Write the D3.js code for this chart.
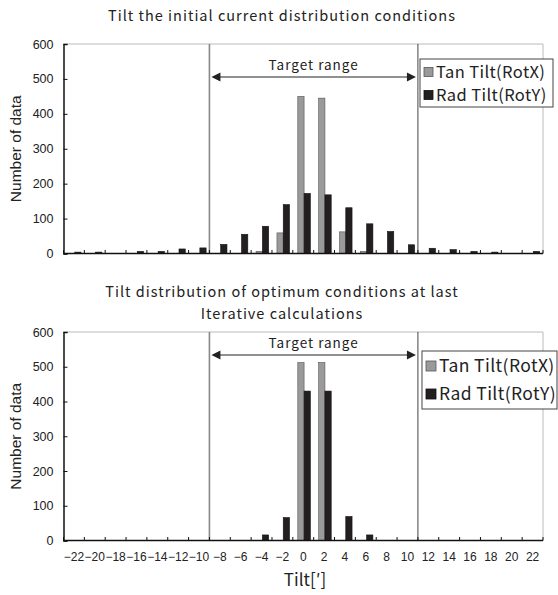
<!DOCTYPE html>
<html>
<head>
<meta charset="utf-8">
<style>
  body { margin: 0; background: #fff; }
  .title, .legend text, .target { font-family: "Noto Sans CJK JP", "Noto Sans", sans-serif; fill: #222; }
  .title, .target { letter-spacing: 1px; }
  .legend text { letter-spacing: 0.4px; }
  .tick text, .ylab, .xlab { font-family: "Liberation Sans", Arial, sans-serif; fill: #222; }
</style>
</head>
<body>
<svg width="558" height="595"></svg>
<script src="https://d3js.org/d3.v7.min.js"></script>
<script>

// tilt classes (bin centres, arc-min)
var categories = [-22, -20, -18, -16, -14, -12, -10, -8, -6, -4, -2, 0, 2, 4, 6, 8, 10, 12, 14, 16, 18, 20, 22];
var tickLabels = categories.map(function(d) { return d < 0 ? "\u2212" + (-d) : String(d); });
var seriesNames = ["Tan Tilt(RotX)", "Rad Tilt(RotY)"];

// initial current distribution
var initTan = [0, 0, 0, 0, 0, 0, 0, 0, 0, 6, 59, 450, 445, 62, 6, 0, 0, 0, 0, 0, 0, 0, 0];
var initRad = [4, 4, 0, 6, 6, 13, 16, 26, 55, 78, 140, 172, 168, 131, 85, 63, 25, 15, 11, 6, 4, 0, 6];

// optimum conditions at last iteration
var lastTan = [0, 0, 0, 0, 0, 0, 0, 0, 0, 0, 0, 512, 512, 0, 0, 0, 0, 0, 0, 0, 0, 0, 0];
var lastRad = [0, 0, 0, 0, 0, 0, 0, 0, 0, 16, 66, 430, 430, 69, 16, 0, 0, 0, 0, 0, 0, 0, 0];

var yTicks = [0, 100, 200, 300, 400, 500, 600];
var targetRange = [-10, 10];

var svg = d3.select("svg");
var colors = ["#9a9a9a", "#231f20"];
var strokes = ["#555", "#111"];

function panel(opt) {
  var g = svg.append("g");
  var x = d3.scaleBand().domain(categories).range([63.5, 543]);
  var xs = d3.scaleBand().domain([0, 1]).range([0, x.bandwidth()]).paddingOuter(0.66).align(0.6);
  var y = d3.scaleLinear().domain([0, 600]).range([opt.bottom, opt.top]);

  // frame top / right
  g.append("path")
    .attr("d", "M" + x.range()[0] + "," + y(600) + "H" + x.range()[1] + "V" + y(0))
    .attr("fill", "none").attr("stroke", "#bbb").attr("stroke-width", 1);

  // target range lines
  var xl = x(targetRange[0]) + x.bandwidth();
  var xr = x(targetRange[1]) + x.bandwidth();
  g.append("line").attr("x1", xl).attr("x2", xl).attr("y1", y(600)).attr("y2", y(0))
    .attr("stroke", "#888").attr("stroke-width", 1.6);
  g.append("line").attr("x1", xr).attr("x2", xr).attr("y1", y(600)).attr("y2", y(0))
    .attr("stroke", "#444").attr("stroke-width", 1);

  // bars
  var rows = categories.map(function(c, i) { return { c: c, v: [opt.tan[i], opt.rad[i]] }; });
  g.selectAll("g.grp").data(rows).enter().append("g")
    .attr("transform", function(d) { return "translate(" + x(d.c) + ",0)"; })
    .selectAll("rect")
    .data(function(d) { return d.v.map(function(v, k) { return { k: k, v: v }; }); })
    .enter().filter(function(d) { return d.v > 0; }).append("rect")
      .attr("x", function(d) { return xs(d.k); })
      .attr("width", xs.bandwidth())
      .attr("y", function(d) { return y(d.v); })
      .attr("height", function(d) { return y(0) - y(d.v); })
      .attr("fill", function(d) { return colors[d.k]; })
      .attr("stroke", function(d) { return strokes[d.k]; })
      .attr("stroke-width", 0.6);

  // y axis
  var ya = g.append("g").attr("transform", "translate(" + x.range()[0] + ",0)")
    .call(d3.axisLeft(y).tickValues(yTicks).tickSize(-4).tickPadding(10));
  ya.select(".domain").attr("stroke", "#111").attr("stroke-width", 1.5);
  ya.selectAll(".tick line").attr("stroke", "#111");
  ya.selectAll(".tick text").attr("font-size", "12.5px").attr("fill", "#222");
  ya.attr("font-family", null);

  // x axis (ticks at bin boundaries, pointing up)
  var bounds = d3.range(categories.length + 1).map(function(i) { return x.range()[0] + i * x.step(); });
  g.append("line").attr("x1", x.range()[0]).attr("x2", x.range()[1])
    .attr("y1", y(0)).attr("y2", y(0)).attr("stroke", "#111").attr("stroke-width", 1.5);
  g.selectAll("line.xt").data(bounds).enter().append("line")
    .attr("x1", function(d) { return d; }).attr("x2", function(d) { return d; })
    .attr("y1", y(0)).attr("y2", y(0) - 3.5).attr("stroke", "#111");

  if (opt.labels) {
    g.selectAll("text.xl").data(categories).enter().append("text")
      .attr("class", "xlab")
      .attr("x", function(d) { return x(d) + x.bandwidth() / 2; })
      .attr("y", y(0) + 20)
      .attr("text-anchor", "middle")
      .attr("font-size", "12px")
      .text(function(d, i) { return tickLabels[i]; });
  }

  // y label
  g.append("text").attr("class", "ylab")
    .attr("transform", "translate(21," + (opt.top + opt.bottom) / 2 + ") rotate(-90)")
    .attr("text-anchor", "middle").attr("font-size", "15.5px")
    .text("Number of data");

  // titles
  opt.title.forEach(function(t, i) {
    g.append("text").attr("class", "title")
      .attr("x", 282).attr("y", opt.titleY + i * 22)
      .attr("text-anchor", "middle").attr("font-size", "14.5px")
      .text(t);
  });

  // target range arrow
  var ay = opt.arrowY;
  g.append("line").attr("x1", xl + 8).attr("x2", xr - 8).attr("y1", ay).attr("y2", ay)
    .attr("stroke", "#222").attr("stroke-width", 1);
  g.append("path").attr("d", "M" + (xl + 2) + "," + ay + "l9,-4.5v9z").attr("fill", "#222");
  g.append("path").attr("d", "M" + (xr - 2) + "," + ay + "l-9,-4.5v9z").attr("fill", "#222");
  g.append("text").attr("class", "target")
    .attr("x", (xl + xr) / 2).attr("y", ay - 7)
    .attr("text-anchor", "middle").attr("font-size", "13.5px")
    .text("Target range");

  // legend
  var L = opt.legend;
  var lg = g.append("g").attr("class", "legend").attr("transform", "translate(" + L.x + "," + L.y + ")");
  lg.append("rect").attr("width", L.w).attr("height", L.h)
    .attr("fill", "#fff").attr("stroke", "#444").attr("stroke-width", 1);
  seriesNames.forEach(function(s, k) {
    var cy = L.pad + k * L.gap;
    lg.append("rect").attr("x", 4).attr("y", cy - L.sq / 2).attr("width", L.sq).attr("height", L.sq)
      .attr("fill", colors[k]).attr("stroke", strokes[k]).attr("stroke-width", 0.8);
    lg.append("text").attr("x", 7 + L.sq).attr("y", cy).attr("dy", "0.36em")
      .attr("font-size", L.fs).text(s);
  });
}

panel({
  top: 44, bottom: 253.5, tan: initTan, rad: initRad, labels: false,
  title: ["Tilt the initial current distribution conditions"], titleY: 21,
  arrowY: 77,
  legend: { x: 420, y: 59, w: 133, h: 48, pad: 13, gap: 23, sq: 9, fs: "16.5px" }
});

panel({
  top: 332, bottom: 540.5, tan: lastTan, rad: lastRad, labels: true,
  title: ["Tilt distribution of optimum conditions at last", "Iterative calculations"], titleY: 297,
  arrowY: 355,
  legend: { x: 422, y: 351, w: 135, h: 58, pad: 15, gap: 28, sq: 10, fs: "17.5px" }
});

svg.append("text").attr("class", "title")
  .attr("x", 305).attr("y", 586).attr("text-anchor", "middle").attr("font-size", "17px")
  .style("letter-spacing", "0px")
  .text("Tilt[\u2032]");

</script>
</body>
</html>
